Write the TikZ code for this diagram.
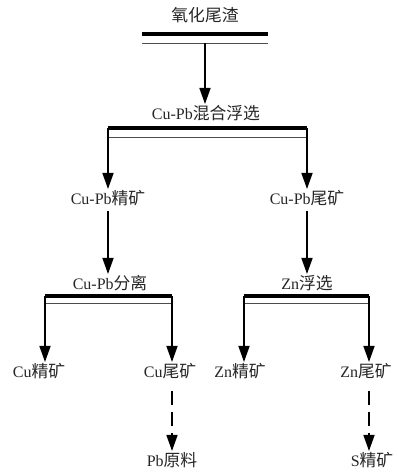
\documentclass[tikz,border=0pt]{standalone}
\usepackage{fontspec}
\setmainfont{Liberation Serif}
\newfontfamily\cjk[Scale=1.05]{Noto Sans CJK SC}
\usetikzlibrary{arrows.meta}

\tikzset{
  label_text/.style={inner sep=1pt, outer sep=2.5pt, text height=12pt, text depth=3pt, text=black!85, font=\fontsize{16}{19}\selectfont},
  bar/.style={line width=3.5pt},
  thin_bar/.style={line width=0.8pt, black!70},
  flow/.style={line width=1.5pt, -{Triangle[width=11pt,length=16pt]}},
  dashed_flow/.style={flow, dash pattern=on 14pt off 7pt, shorten <=7pt},
}

\begin{document}
\begin{tikzpicture}[x=1pt, y=1pt]
\useasboundingbox (0, 0) rectangle (398, 472);

\node[label_text] (feed) at (205, 455) {{\cjk 氧化尾渣}};
\draw[bar] (142, 438) -- (268, 438);
\draw[thin_bar] (142, 429) -- (268, 429);
\coordinate (feed_out) at (205, 429);

\node[label_text] (mix_flotation) at (206, 357) {Cu-Pb{\cjk 混合浮选}};
\draw[flow] (feed_out) -- (feed_out |- mix_flotation.north);

% bulk flotation
\coordinate (mix_left) at (108, 344);
\coordinate (mix_right) at (307, 344);
\draw[bar] (mix_left) -- (mix_right);
\draw[thin_bar] (108, 335) -- (307, 335);
\node[label_text] (cupb_conc) at (108, 272) {Cu-Pb{\cjk 精矿}};
\node[label_text] (cupb_tail) at (307, 272) {Cu-Pb{\cjk 尾矿}};
\draw[flow] (mix_left) -- (cupb_conc);
\draw[flow] (mix_right) -- (cupb_tail);

\node[label_text] (separation) at (110, 187) {Cu-Pb{\cjk 分离}};
\node[label_text] (zn_flotation) at (307, 187) {Zn{\cjk 浮选}};
\draw[flow] (cupb_conc) -- (cupb_conc |- separation.north);
\draw[flow] (cupb_tail) -- (zn_flotation);

% separation and Zn flotation
\coordinate (sep_left) at (45, 176);
\coordinate (sep_right) at (172, 176);
\coordinate (zn_left) at (244, 176);
\coordinate (zn_right) at (369, 176);
\draw[bar] (sep_left) -- (sep_right);
\draw[thin_bar] (45, 169) -- (172, 169);
\draw[bar] (zn_left) -- (zn_right);
\draw[thin_bar] (244, 169) -- (369, 169);

\node[label_text] (cu_conc) at (39, 99) {Cu{\cjk 精矿}};
\node[label_text] (cu_tail) at (170, 99) {Cu{\cjk 尾矿}};
\node[label_text] (zn_conc) at (240, 99) {Zn{\cjk 精矿}};
\node[label_text] (zn_tail) at (366, 99) {Zn{\cjk 尾矿}};
\draw[flow] (sep_left) -- (sep_left |- cu_conc.north);
\draw[flow] (sep_right) -- (sep_right |- cu_tail.north);
\draw[flow] (zn_left) -- (zn_left |- zn_conc.north);
\draw[flow] (zn_right) -- (zn_right |- zn_tail.north);

\node[label_text] (pb_raw) at (172, 10) {Pb{\cjk 原料}};
\node[label_text] (s_conc) at (372, 10) {S{\cjk 精矿}};
\draw[dashed_flow] (sep_right |- cu_tail.south) -- (sep_right |- pb_raw.north);
\draw[dashed_flow] (zn_right |- zn_tail.south) -- (zn_right |- s_conc.north);
\end{tikzpicture}
\end{document}
